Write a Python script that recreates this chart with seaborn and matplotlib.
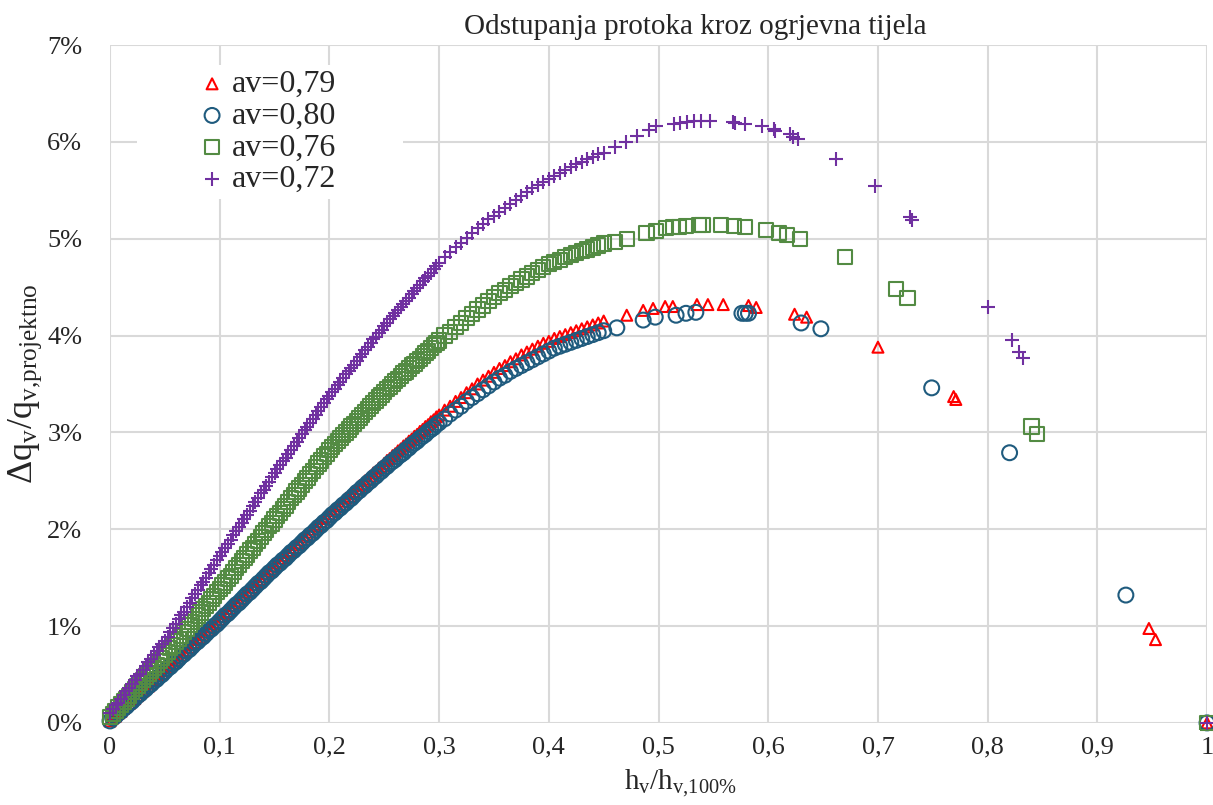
import pandas as pd
import seaborn as sns
import matplotlib.pyplot as plt

# gusti dio krivulja (zajednicke vrijednosti h_v/h_v,100%)
h_gusto = [0.0, 0.0025, 0.005, 0.0075, 0.01, 0.0125, 0.015, 0.0175, 0.02, 0.0225,
           0.025, 0.0275, 0.03, 0.0325, 0.035, 0.0375, 0.04, 0.0425, 0.045, 0.0475,
           0.05, 0.0525, 0.055, 0.0575, 0.06, 0.0625, 0.065, 0.0675, 0.07, 0.0725,
           0.075, 0.0775, 0.08, 0.0825, 0.085, 0.0875, 0.09, 0.0925, 0.095, 0.0975,
           0.1, 0.1025, 0.105, 0.1075, 0.11, 0.1125, 0.115, 0.1175, 0.12, 0.1225,
           0.125, 0.1275, 0.13, 0.1325, 0.135, 0.1375, 0.14, 0.1425, 0.145, 0.1475,
           0.15, 0.1525, 0.155, 0.1575, 0.16, 0.1625, 0.165, 0.1675, 0.17, 0.1725,
           0.175, 0.1775, 0.18, 0.1825, 0.185, 0.1875, 0.19, 0.1925, 0.195, 0.1975,
           0.2, 0.2025, 0.205, 0.2075, 0.21, 0.2125, 0.215, 0.2175, 0.22, 0.2225,
           0.225, 0.2275, 0.23, 0.2325, 0.235, 0.2375, 0.24, 0.2425, 0.245, 0.2475,
           0.25, 0.2525, 0.255, 0.2575, 0.26, 0.2625, 0.265, 0.2675, 0.27, 0.2725,
           0.275, 0.2775, 0.28, 0.2825, 0.285, 0.2875, 0.29, 0.2925, 0.295, 0.2975,
           0.3,
           0.305, 0.31, 0.315, 0.32, 0.325, 0.33, 0.335, 0.34, 0.345, 0.35,
           0.355, 0.36, 0.365, 0.37, 0.375, 0.38, 0.385, 0.39, 0.395, 0.4,
           0.405, 0.41, 0.415, 0.42, 0.425, 0.43, 0.435, 0.44, 0.445, 0.45]

q_079_gusto = [0.02, 0.05, 0.07, 0.10, 0.12, 0.15, 0.18, 0.20, 0.23, 0.25, 0.28, 0.31, 0.33, 0.36, 0.38, 0.41, 0.44, 0.46, 0.49, 0.51,
               0.54, 0.57, 0.59, 0.62, 0.65, 0.67, 0.70, 0.73, 0.75, 0.78, 0.81, 0.83, 0.86, 0.88, 0.91, 0.94, 0.96, 0.99, 1.02, 1.04,
               1.07, 1.10, 1.13, 1.15, 1.18, 1.21, 1.24, 1.26, 1.29, 1.32, 1.35, 1.37, 1.40, 1.43, 1.46, 1.48, 1.51, 1.54, 1.57, 1.59,
               1.62, 1.65, 1.67, 1.70, 1.73, 1.76, 1.78, 1.81, 1.84, 1.86, 1.89, 1.92, 1.94, 1.97, 2.00, 2.03, 2.05, 2.08, 2.11, 2.13,
               2.16, 2.19, 2.21, 2.24, 2.26, 2.29, 2.32, 2.34, 2.37, 2.39, 2.42, 2.45, 2.47, 2.50, 2.52, 2.55, 2.58, 2.60, 2.63, 2.65,
               2.68, 2.71, 2.73, 2.76, 2.78, 2.81, 2.83, 2.86, 2.88, 2.91, 2.93, 2.96, 2.98, 3.01, 3.03, 3.06, 3.08, 3.11, 3.13, 3.16,
               3.18,
               3.23, 3.27, 3.32, 3.36, 3.41, 3.45, 3.50, 3.54, 3.58, 3.62, 3.66, 3.69, 3.73, 3.76, 3.80,
               3.83, 3.86, 3.89, 3.92, 3.94, 3.97, 3.99, 4.01, 4.03, 4.05, 4.07, 4.09, 4.11, 4.13, 4.15]

q_080_gusto = [0.02, 0.05, 0.07, 0.10, 0.12, 0.15, 0.17, 0.20, 0.22, 0.25, 0.28, 0.30, 0.33, 0.35, 0.38, 0.40, 0.43, 0.45, 0.48, 0.50,
               0.53, 0.56, 0.58, 0.61, 0.63, 0.66, 0.69, 0.71, 0.74, 0.76, 0.79, 0.82, 0.84, 0.87, 0.89, 0.92, 0.95, 0.97, 1.00, 1.02,
               1.05, 1.08, 1.11, 1.13, 1.16, 1.19, 1.22, 1.24, 1.27, 1.30, 1.33, 1.35, 1.38, 1.41, 1.44, 1.46, 1.49, 1.52, 1.55, 1.57,
               1.60, 1.63, 1.65, 1.68, 1.70, 1.73, 1.76, 1.78, 1.81, 1.83, 1.86, 1.89, 1.91, 1.94, 1.96, 1.99, 2.02, 2.04, 2.07, 2.09,
               2.12, 2.15, 2.17, 2.20, 2.22, 2.25, 2.27, 2.30, 2.32, 2.35, 2.38, 2.40, 2.43, 2.45, 2.48, 2.50, 2.53, 2.55, 2.58, 2.60,
               2.63, 2.65, 2.68, 2.70, 2.72, 2.75, 2.77, 2.79, 2.82, 2.84, 2.87, 2.89, 2.91, 2.94, 2.96, 2.98, 3.01, 3.03, 3.05, 3.08,
               3.10,
               3.14, 3.19, 3.23, 3.27, 3.32, 3.36, 3.40, 3.44, 3.48, 3.52, 3.56, 3.59, 3.63, 3.66, 3.69,
               3.72, 3.75, 3.78, 3.81, 3.84, 3.87, 3.89, 3.91, 3.93, 3.95, 3.97, 3.99, 4.01, 4.03, 4.05]

q_076_gusto = [0.06, 0.09, 0.12, 0.16, 0.19, 0.22, 0.25, 0.28, 0.32, 0.35, 0.38, 0.41, 0.44, 0.48, 0.51, 0.54, 0.57, 0.60, 0.64, 0.67,
               0.70, 0.73, 0.77, 0.80, 0.84, 0.87, 0.90, 0.94, 0.97, 1.01, 1.04, 1.07, 1.11, 1.14, 1.18, 1.21, 1.24, 1.28, 1.31, 1.35,
               1.38, 1.42, 1.45, 1.49, 1.52, 1.56, 1.60, 1.63, 1.67, 1.70, 1.74, 1.78, 1.81, 1.85, 1.88, 1.92, 1.96, 1.99, 2.03, 2.06,
               2.10, 2.14, 2.17, 2.21, 2.24, 2.28, 2.32, 2.35, 2.39, 2.42, 2.46, 2.50, 2.53, 2.57, 2.60, 2.64, 2.68, 2.71, 2.75, 2.78,
               2.82, 2.85, 2.88, 2.91, 2.94, 2.97, 3.00, 3.03, 3.06, 3.09, 3.12, 3.15, 3.18, 3.21, 3.24, 3.27, 3.30, 3.33, 3.36, 3.39,
               3.42, 3.45, 3.47, 3.50, 3.53, 3.55, 3.58, 3.61, 3.63, 3.66, 3.69, 3.71, 3.74, 3.76, 3.79, 3.82, 3.84, 3.87, 3.90, 3.92,
               3.95,
               4.00, 4.04, 4.09, 4.13, 4.18, 4.22, 4.27, 4.31, 4.36, 4.40, 4.44, 4.47, 4.51, 4.54, 4.58,
               4.61, 4.65, 4.68, 4.71, 4.74, 4.76, 4.78, 4.81, 4.83, 4.85, 4.87, 4.89, 4.91, 4.93, 4.95]

q_072_gusto = [0.10, 0.14, 0.18, 0.21, 0.25, 0.29, 0.33, 0.36, 0.40, 0.44, 0.48, 0.51, 0.55, 0.59, 0.63, 0.66, 0.70, 0.74, 0.78, 0.81,
               0.85, 0.89, 0.94, 0.98, 1.02, 1.07, 1.11, 1.15, 1.20, 1.24, 1.29, 1.33, 1.37, 1.42, 1.46, 1.50, 1.55, 1.59, 1.63, 1.68,
               1.72, 1.76, 1.81, 1.85, 1.89, 1.94, 1.98, 2.02, 2.06, 2.11, 2.15, 2.19, 2.24, 2.28, 2.32, 2.37, 2.41, 2.45, 2.49, 2.54,
               2.58, 2.62, 2.66, 2.70, 2.74, 2.78, 2.82, 2.86, 2.90, 2.94, 2.98, 3.02, 3.06, 3.10, 3.14, 3.18, 3.22, 3.26, 3.30, 3.34,
               3.38, 3.42, 3.45, 3.49, 3.52, 3.56, 3.60, 3.63, 3.67, 3.70, 3.74, 3.78, 3.81, 3.85, 3.88, 3.92, 3.96, 3.99, 4.03, 4.06,
               4.10, 4.13, 4.17, 4.20, 4.23, 4.26, 4.30, 4.33, 4.36, 4.39, 4.43, 4.46, 4.49, 4.52, 4.56, 4.59, 4.62, 4.65, 4.69, 4.72,
               4.75,
               4.81, 4.86, 4.91, 4.96, 5.01, 5.06, 5.11, 5.15, 5.20, 5.24, 5.28, 5.32, 5.36, 5.40, 5.44,
               5.48, 5.52, 5.55, 5.59, 5.62, 5.65, 5.68, 5.71, 5.74, 5.77, 5.79, 5.82, 5.84, 5.87, 5.89]

# rijetki dio krivulja (pojedinacne tocke)
h_079 = [0.471, 0.486, 0.495, 0.506, 0.513, 0.535, 0.545, 0.559, 0.582, 0.589,
         0.624, 0.635, 0.70, 0.769, 0.771, 0.947, 0.953, 1.0]
q_079 = [4.21, 4.26, 4.28, 4.30, 4.30, 4.32, 4.32, 4.32, 4.31, 4.29,
         4.22, 4.19, 3.88, 3.37, 3.34, 0.975, 0.86, 0.0]

h_080 = [0.462, 0.486, 0.497, 0.516, 0.525, 0.534, 0.576, 0.579, 0.582,
         0.630, 0.648, 0.749, 0.82, 0.926, 1.0]
q_080 = [4.08, 4.16, 4.19, 4.21, 4.23, 4.24, 4.23, 4.23, 4.23,
         4.13, 4.07, 3.46, 2.79, 1.32, 0.0]

h_076 = [0.46, 0.471, 0.489, 0.498, 0.507, 0.513, 0.519, 0.525, 0.537, 0.54,
         0.557, 0.569, 0.579, 0.598, 0.61, 0.617, 0.629, 0.67, 0.7165, 0.727,
         0.84, 0.845, 1.0]
q_076 = [4.97, 5.00, 5.06, 5.08, 5.11, 5.12, 5.12, 5.13, 5.14, 5.14,
         5.14, 5.13, 5.12, 5.09, 5.06, 5.04, 5.00, 4.81, 4.48, 4.39,
         3.06, 2.98, 0.0]

h_072 = [0.46, 0.47, 0.48, 0.491, 0.498, 0.514, 0.52, 0.526, 0.532, 0.539,
         0.547, 0.568, 0.57, 0.579, 0.594, 0.605, 0.606, 0.62, 0.623, 0.627,
         0.662, 0.697, 0.729, 0.731, 0.8, 0.822, 0.829, 0.832, 1.0]
q_072 = [5.95, 6.00, 6.06, 6.12, 6.16, 6.19, 6.20, 6.21, 6.22, 6.22,
         6.22, 6.21, 6.20, 6.19, 6.16, 6.13, 6.11, 6.08, 6.05, 6.03,
         5.82, 5.54, 5.22, 5.19, 4.29, 3.95, 3.83, 3.77, 0.0]

oznake_x = ['0', '0,1', '0,2', '0,3', '0,4', '0,5', '0,6', '0,7', '0,8', '0,9', '1']
oznake_y = ['0%', '1%', '2%', '3%', '4%', '5%', '6%', '7%']

serije = [
    ('av=0,79', q_079_gusto, h_079, q_079, '^', '#ff0000', 62),
    ('av=0,80', q_080_gusto, h_080, q_080, 'o', '#1f5b7e', 115),
    ('av=0,76', q_076_gusto, h_076, q_076, 's', '#538b43', 105),
    ('av=0,72', q_072_gusto, h_072, q_072, '+', '#7030a0', 100),
]

sns.set_style('whitegrid', {'grid.color': '#d9d9d9'})
plt.rcParams['font.family'] = ['Liberation Serif', 'DejaVu Serif']
plt.rcParams['mathtext.fontset'] = 'custom'
plt.rcParams['mathtext.rm'] = 'Liberation Serif'
plt.rcParams['mathtext.it'] = 'Liberation Serif:italic'

fig, ax = plt.subplots(figsize=(12.13, 8.05), dpi=100)
fig.subplots_adjust(left=0.0907, right=0.9951, top=0.944, bottom=0.102)

for naziv, q_gusto, h_rij, q_rij, marker, boja, vel in serije:
    df = pd.DataFrame({'h': h_gusto + h_rij, 'q': q_gusto + q_rij})
    kw = dict(data=df, x='h', y='q', marker=marker, s=vel, label=naziv,
              ax=ax, clip_on=False, zorder=3)
    if marker == '+':
        sns.scatterplot(color=boja, linewidth=1.5, **kw)
    else:
        sns.scatterplot(color=boja, facecolor='none', edgecolor=boja,
                        linewidth=1.5, **kw)

ax.set_xlim(0, 1)
ax.set_ylim(0, 7)
ax.set_xticks([i / 10 for i in range(11)])
ax.set_xticklabels(oznake_x)
ax.set_yticks(range(8))
ax.set_yticklabels(oznake_y)
ax.tick_params(axis='both', labelsize=19, length=0)
ax.tick_params(axis='x', pad=10)
ax.tick_params(axis='y', pad=20)
ax.grid(True, color='#d9d9d9', linewidth=1.5)
for sp in ax.spines.values():
    sp.set_visible(False)

ax.set_xlabel(r'h$_{\mathrm{v}}$/h$_{\mathrm{v{,}100\%}}$', fontsize=21)
ax.xaxis.set_label_coords(0.52, -0.066)
ax.set_ylabel(r'Δq$_{\mathrm{v}}$/q$_{\mathrm{v{,}projektno}}$', fontsize=26, labelpad=2)
fig.text(0.573, 0.966, 'Odstupanja protoka kroz ogrjevna tijela', fontsize=21,
         ha='center', va='center')

leg = ax.legend(loc='upper left', bbox_to_anchor=(0.0246, 0.6, 0.2425, 0.3705),
                mode='expand', borderaxespad=0, fontsize=23, frameon=True,
                framealpha=1, facecolor='white', edgecolor='none', fancybox=False,
                labelspacing=0.07, handletextpad=-1.58, handlelength=4.4,
                borderpad=0.15, markerscale=1.0)
leg.set_zorder(5)

fig.savefig('out.png', dpi=100)
